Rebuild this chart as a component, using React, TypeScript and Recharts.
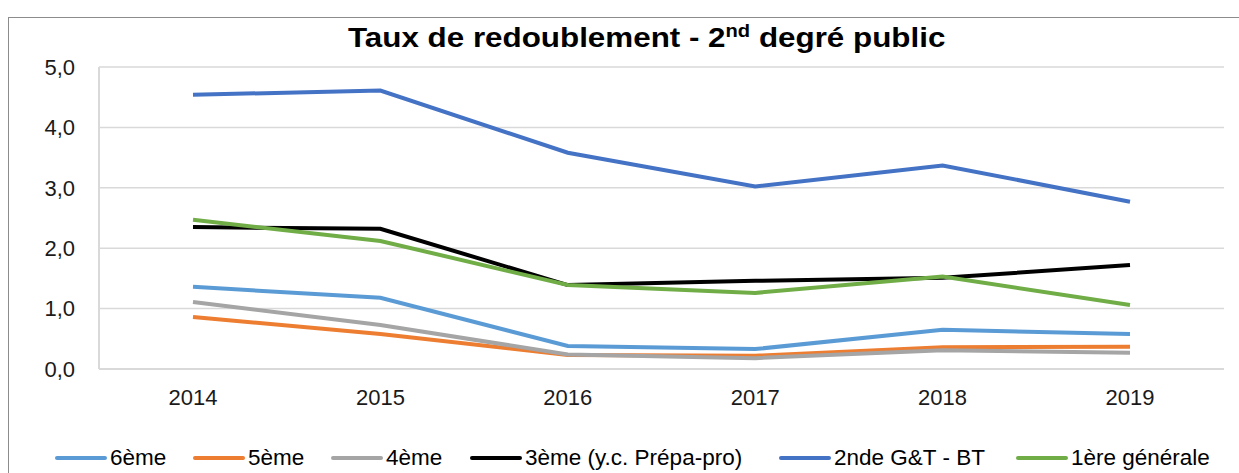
import { LineChart, Line, XAxis, YAxis, CartesianGrid } from "recharts";

const years = ["2014", "2015", "2016", "2017", "2018", "2019"];
const sixieme = [1.36, 1.18, 0.38, 0.33, 0.65, 0.58];
const cinquieme = [0.86, 0.58, 0.23, 0.22, 0.36, 0.37];
const quatrieme = [1.11, 0.73, 0.24, 0.18, 0.31, 0.27];
const troisieme = [2.35, 2.32, 1.39, 1.46, 1.51, 1.72];
const seconde = [4.54, 4.61, 3.58, 3.02, 3.37, 2.77];
const premiere = [2.47, 2.12, 1.39, 1.26, 1.53, 1.06];
const yTicks = [0, 1, 2, 3, 4, 5];

const series = [
  { key: "s6", name: "6ème", values: sixieme, color: "#5B9BD5" },
  { key: "s5", name: "5ème", values: cinquieme, color: "#ED7D31" },
  { key: "s4", name: "4ème", values: quatrieme, color: "#A5A5A5" },
  { key: "s3", name: "3ème (y.c. Prépa-pro)", values: troisieme, color: "#000000" },
  { key: "s2", name: "2nde G&T - BT", values: seconde, color: "#4472C4" },
  { key: "s1", name: "1ère générale", values: premiere, color: "#70AD47" },
];
// left edge of each legend entry
const legendLeft = [55, 193, 331, 470, 779, 1016];

const data = years.map((y, i) => {
  const row: Record<string, string | number> = { year: y };
  series.forEach((s) => (row[s.key] = s.values[i]));
  return row;
});

const font = "'Liberation Sans', Arial, sans-serif";

export default function App() {
  return (
    <div style={{ position: "absolute", left: 0, top: 0, width: 1239, height: 473, background: "#fff", fontFamily: font, overflow: "hidden" }}>
      <div style={{ position: "absolute", left: 8, top: 17, width: 1260, height: 500, border: "1px solid #8c8c8c" }} />
      <div style={{ position: "absolute", left: 348, top: 22, fontSize: 28, fontWeight: "bold", color: "#000", whiteSpace: "nowrap", transform: "scaleX(1.12)", transformOrigin: "0 0" }}>
        Taux de redoublement - 2<sup style={{ fontSize: 18, verticalAlign: 0, position: "relative", top: -10 }}>nd</sup> degré public
      </div>
      <LineChart
        width={1239}
        height={473}
        data={data}
        margin={{ top: 67, right: 15, bottom: 0, left: 0 }}
        style={{ position: "absolute", left: 0, top: 0 }}
      >
        <CartesianGrid vertical={false} stroke="#d9d9d9" strokeWidth={1.5} />
        <XAxis
          dataKey="year"
          height={104}
          padding={{ left: 94, right: 94 }}
          axisLine={{ stroke: "#d9d9d9", strokeWidth: 2 }}
          tickLine={false}
          tick={{ fill: "#1a1a1a", fontSize: 22, fontFamily: font }}
          tickMargin={14}
        />
        <YAxis
          width={99}
          domain={[0, 5]}
          ticks={yTicks}
          axisLine={{ stroke: "#d9d9d9", strokeWidth: 2 }}
          tickLine={false}
          tick={{ fill: "#1a1a1a", fontSize: 22, fontFamily: font }}
          tickFormatter={(v: number) => v.toFixed(1).replace(".", ",")}
          tickMargin={18}
        />
        {series.map((s) => (
          <Line
            key={s.key}
            dataKey={s.key}
            name={s.name}
            stroke={s.color}
            strokeWidth={4}
            dot={false}
            type="linear"
            isAnimationActive={false}
          />
        ))}
      </LineChart>
      {series.map((s, i) => (
        <div key={s.key} style={{ position: "absolute", left: legendLeft[i], top: 444, height: 28, display: "flex", alignItems: "center", fontSize: 22.5, color: "#000", whiteSpace: "nowrap" }}>
          <div style={{ width: 52, height: 4, borderRadius: 2, background: s.color, marginRight: 3 }} />
          <span>{s.name}</span>
        </div>
      ))}
    </div>
  );
}
